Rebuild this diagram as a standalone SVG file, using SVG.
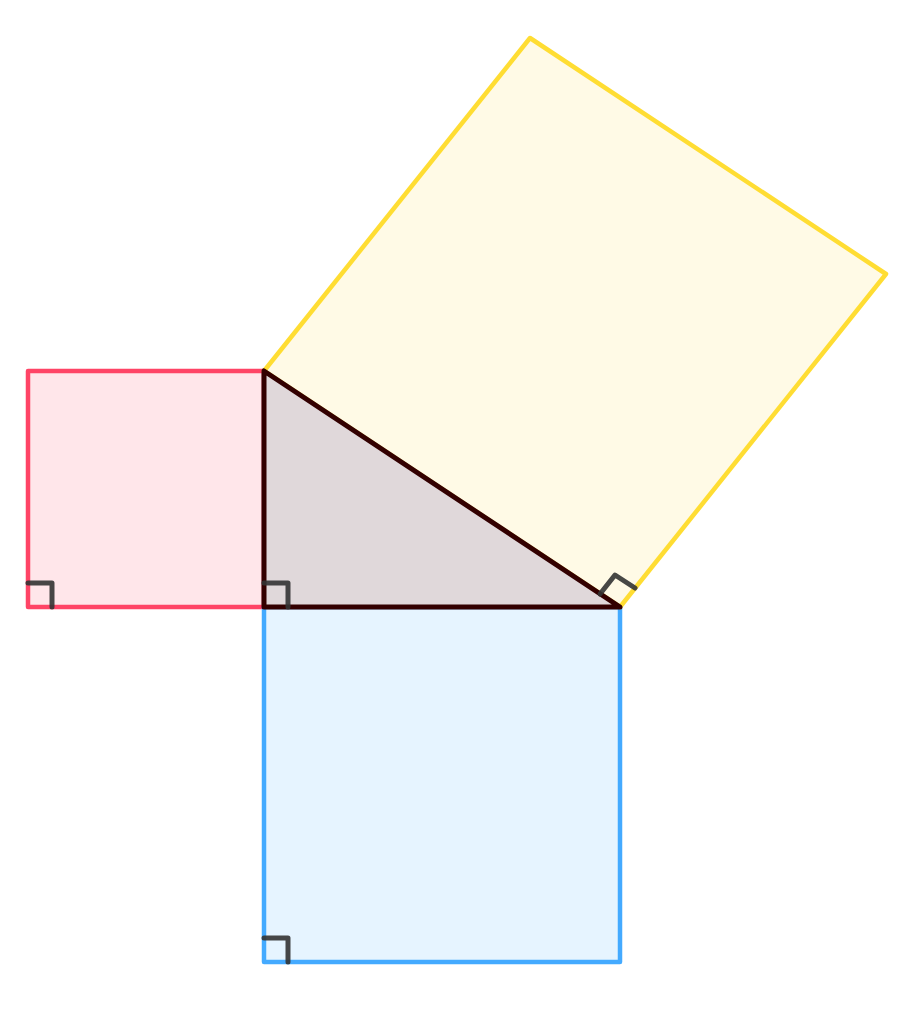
<svg xmlns="http://www.w3.org/2000/svg" width="911" height="1020" viewBox="0 0 911 1020">
<style>
.sq{stroke-width:4.5;stroke-linejoin:round;stroke-linecap:round}
.red{fill:#ffe6ea;stroke:#ff4466}
.blue{fill:#e6f4ff;stroke:#44aaff}
.yellow{fill:#fffae6;stroke:#ffdd33}
.tri{fill:#e0d8da;stroke:#330000;stroke-width:5;stroke-linejoin:round;stroke-linecap:round}
.mark{fill:none;stroke:#333333;stroke-opacity:0.9;stroke-width:5;stroke-linejoin:round;stroke-linecap:round}
</style>
<rect width="911" height="1020" fill="#ffffff"/>
<g id="square-red"><polygon class="sq red" points="28,371 264,371 264,607 28,607"/></g>
<g id="square-blue"><polygon class="sq blue" points="264,607 620,607 620,962 264,962"/></g>
<g id="square-yellow"><polygon class="sq yellow" points="264,371 530,38 886,274 620,607"/></g>
<g id="triangle"><polygon class="tri" points="264,371 264,607 620,607"/></g>
<g id="connectors">
<polyline class="mark" points="28,583 52,583 52,607"/>
<polyline class="mark" points="264,583 288,583 288,607"/>
<polyline class="mark" points="264,938 288,938 288,962"/>
<polyline class="mark" points="600,594 615,575 635,588"/>
</g>
</svg>
